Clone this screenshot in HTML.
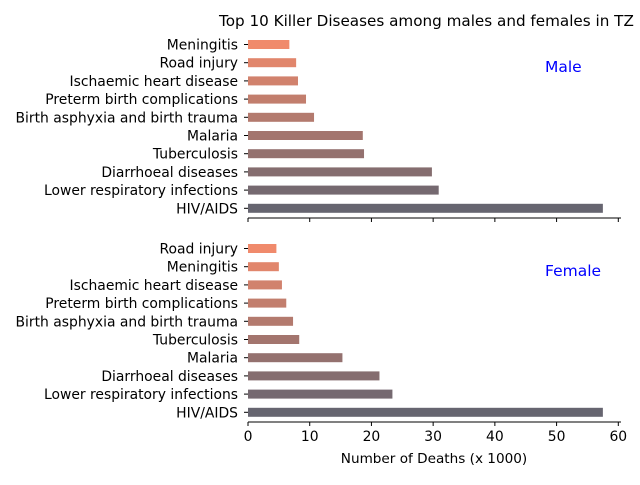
<!DOCTYPE html>
<html><head><meta charset="utf-8"><style>
body{margin:0;background:#fff;}
svg{font-family:"DejaVu Sans","Liberation Sans",sans-serif;}
</style></head><body>
<svg id="chart" width="640" height="480" xmlns="http://www.w3.org/2000/svg">
<text x="219" y="26" font-size="15.2">Top 10 Killer Diseases among males and females in TZ</text>
<text x="545" y="72" font-size="15.5" fill="blue">Male</text>
<text x="545" y="276" font-size="15.5" fill="blue">Female</text>
<text x="434" y="463" font-size="13.6" text-anchor="middle">Number of Deaths (x 1000)</text>
</svg>
<script>
const maleCategories=["Meningitis","Road injury","Ischaemic heart disease","Preterm birth complications","Birth asphyxia and birth trauma","Malaria","Tuberculosis","Diarrhoeal diseases","Lower respiratory infections","HIV/AIDS"];
const maleValues=[6.7,7.8,8.1,9.4,10.7,18.6,18.8,29.8,30.9,57.5];
const femaleCategories=["Road injury","Meningitis","Ischaemic heart disease","Preterm birth complications","Birth asphyxia and birth trauma","Tuberculosis","Malaria","Diarrhoeal diseases","Lower respiratory infections","HIV/AIDS"];
const femaleValues=[4.6,5.0,5.5,6.2,7.3,8.3,15.3,21.3,23.4,57.5];
const xTicks=[0,10,20,30,40,50,60];
const svg=document.getElementById('chart');
const NS="http://www.w3.org/2000/svg";
const X0=248,SCALE=(618.3-248)/60;
function xs(v){return X0+v*SCALE;}
function mk(tag,attrs){const e=document.createElementNS(NS,tag);for(const k in attrs)e.setAttribute(k,attrs[k]);svg.appendChild(e);return e;}
function col(i){const a=[240,138,108],b=[102,101,112];const t=i/9;return `rgb(${a.map((c,j)=>Math.round(c+(b[j]-c)*t)).join(',')})`;}
function panel(cats,vals,top,axisY,labels,name){
  const step=18.2;
  cats.forEach((c,i)=>{
    const y=top+i*step+0.5;
    const r=mk('rect',{x:X0,y:y-4.5,width:xs(vals[i])-X0,height:9,fill:col(i)});
    
    
    const tk=mk('line',{x1:X0-4,x2:X0,y1:y,y2:y,stroke:'#000','stroke-width':1});
    
    
    const t=mk('text',{x:X0-10,y:y+5,'font-size':13.9,'text-anchor':'end'});
    t.textContent=c;
    
    
  });
  const ax=mk('line',{x1:X0,x2:621,y1:axisY,y2:axisY,stroke:'#000','stroke-width':1});
  
  
  xTicks.forEach(v=>{
    const l=mk('line',{x1:xs(v),x2:xs(v),y1:axisY,y2:axisY+4,stroke:'#000','stroke-width':1});
    
    
    if(labels){
      const t=mk('text',{x:xs(v),y:axisY+19,'font-size':13.9,'text-anchor':'middle'});
      t.textContent=v;
      
      
    }
  });
}
panel(maleCategories,maleValues,44,218,false,'male');
panel(femaleCategories,femaleValues,248,422,true,'female');
</script>
</body></html>
